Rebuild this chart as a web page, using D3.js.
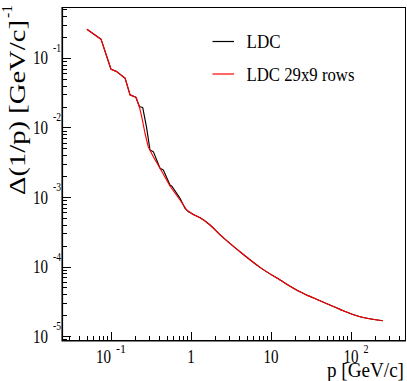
<!DOCTYPE html>
<html><head><meta charset="utf-8">
<script src="https://cdn.jsdelivr.net/npm/d3@7"></script>
<style>html,body{margin:0;padding:0;background:#fff;overflow:hidden}</style>
</head><body>
<script>
// ---- data ----
const ldcP = [0.05, 0.075, 0.1, 0.118, 0.15, 0.173, 0.205, 0.226, 0.249, 0.279, 0.307, 0.338, 0.41, 0.451, 0.546, 0.574, 0.663, 0.729, 0.841, 0.925, 1.0, 1.12, 1.3, 1.73, 2.3, 4.1, 7.29, 13, 23, 41, 73, 130, 250];
const ldcV = [0.259, 0.186, 0.0688, 0.0636, 0.0511, 0.0294, 0.0272, 0.0200, 0.0194, 0.00984, 0.00474, 0.00449, 0.00259, 0.00244, 0.00149, 0.00144, 0.00113, 9.57e-4, 6.87e-4, 6.15e-4, 5.9e-4, 5.45e-4, 5.02e-4, 3.96e-4, 2.88e-4, 1.63e-4, 9.73e-5, 6.4e-5, 4.34e-5, 3.22e-5, 2.42e-5, 1.9e-5, 1.66e-5];
const rowsP = [0.05, 0.075, 0.1, 0.118, 0.15, 0.173, 0.205, 0.226, 0.242, 0.266, 0.292, 0.338, 0.41, 0.546, 0.729, 0.884, 1.0, 1.12, 1.3, 1.73, 2.3, 4.1, 7.29, 13, 23, 41, 73, 130, 250];
const rowsV = [0.259, 0.186, 0.0688, 0.0636, 0.0511, 0.0294, 0.0272, 0.0200, 0.0143, 0.00826, 0.0053, 0.0038, 0.00259, 0.00144, 9.06e-4, 6.5e-4, 5.9e-4, 5.45e-4, 5.02e-4, 3.96e-4, 2.88e-4, 1.63e-4, 9.73e-5, 6.4e-5, 4.34e-5, 3.22e-5, 2.42e-5, 1.9e-5, 1.66e-5];
const seriesNames = ["LDC", "LDC 29x9 rows"];
const seriesColors = ["#000000", "#ff0000"];
const xTickValues = [0.1, 1, 10, 100];
const xTickBase = ["10", "1", "10", "10"];
const xTickExp = ["-1", "", "", "2"];
const yTickValues = [1e-1, 1e-2, 1e-3, 1e-4, 1e-5];
const yTickExp = ["-1", "-2", "-3", "-4", "-5"];
const xTitle = "p [GeV/c]";
const yTitle = "\u0394(1/p) [GeV/c]";
const yTitleExp = "-1";

// ---- layout ----
const W = 407, H = 381;
const L = 62, R = 406, T = 7, B = 341;
const FONT = "'Liberation Serif','Times New Roman',serif";

const svg = d3.select("body").append("svg").attr("width", W).attr("height", H)
  .style("font-family", FONT).style("font-weight", "normal");

const x = d3.scaleLog().domain([0.02441, 487]).range([L, R]);
const y = d3.scaleLog().domain([8.5e-6, 0.54]).range([B, T]);

// frame
svg.append("rect").attr("x", L).attr("y", T + 0.5).attr("width", R - L - 0.5).attr("height", B - T - 0.5)
  .attr("fill", "none").attr("stroke", "#000").attr("stroke-width", 1);

function logTicks(domain) {
  const out = [];
  const lo = Math.floor(Math.log10(domain[0])), hi = Math.ceil(Math.log10(domain[1]));
  for (let e = lo; e <= hi; e++) for (let k = 1; k <= 9; k++) {
    const v = k * Math.pow(10, e);
    if (v >= domain[0] && v <= domain[1]) out.push({v, major: k === 1});
  }
  return out;
}
const gx = svg.append("g");
logTicks(x.domain()).forEach(t => {
  const px = Math.round(x(t.v)) + 0.5;
  gx.append("line").attr("x1", px).attr("x2", px).attr("y1", B).attr("y2", B - (t.major ? 9 : 5))
    .attr("stroke", "#000").attr("stroke-width", 1);
});
const gy = svg.append("g");
logTicks(y.domain()).forEach(t => {
  const py = Math.round(y(t.v)) + 0.5;
  gy.append("line").attr("x1", L).attr("x2", L + (t.major ? 9 : 5)).attr("y1", py).attr("y2", py)
    .attr("stroke", "#000").attr("stroke-width", 1);
});
svg.append("line").attr("x1", L).attr("x2", R).attr("y1", B - 0.5).attr("y2", B - 0.5).attr("stroke", "#000").attr("stroke-width", 1.2);
svg.append("line").attr("x1", L + 0.5).attr("x2", L + 0.5).attr("y1", T).attr("y2", B).attr("stroke", "#000").attr("stroke-width", 1.2);

// x tick labels
xTickValues.forEach((v, i) => {
  const px = x(v);
  const base = xTickBase[i], ex = xTickExp[i];
  const bw = base.length * 7.5;
  if (!ex) {
    svg.append("text").attr("x", px).attr("y", 363).attr("text-anchor", "middle")
      .attr("font-size", 19).attr("textLength", bw).attr("lengthAdjust", "spacingAndGlyphs").text(base);
  } else {
    const ew = ex.length === 2 ? 10 : 5;
    const gap = ex.length === 2 ? 5 : 5;
    const tot = bw + gap + ew;
    const x0 = px - tot / 2 + (ex.length === 2 ? 0 : 5);
    svg.append("text").attr("x", x0).attr("y", 363).attr("font-size", 19)
      .attr("textLength", bw).attr("lengthAdjust", "spacingAndGlyphs").text(base);
    svg.append("text").attr("x", x0 + bw + gap).attr("y", 353).attr("font-size", 12)
      .attr("textLength", ew).attr("lengthAdjust", "spacingAndGlyphs").text(ex);
  }
});

// y tick labels
yTickValues.forEach((v, i) => {
  const py = y(v);
  svg.append("text").attr("x", 33).attr("y", py + 6.5).attr("font-size", 19)
    .attr("textLength", 15).attr("lengthAdjust", "spacingAndGlyphs").text("10");
  svg.append("text").attr("x", 53).attr("y", py - 6).attr("font-size", 13)
    .attr("textLength", 8).attr("lengthAdjust", "spacingAndGlyphs").text(yTickExp[i]);
});

// titles
svg.append("text").attr("x", 327).attr("y", 377).attr("font-size", 20)
  .attr("textLength", 77).attr("lengthAdjust", "spacingAndGlyphs").text(xTitle);
const yt = svg.append("g").attr("transform", "translate(25,195) rotate(-90)");
yt.append("text").attr("x", 0).attr("y", 0).attr("font-size", 23)
  .attr("textLength", 175).attr("lengthAdjust", "spacingAndGlyphs").text(yTitle);
yt.append("text").attr("x", 177).attr("y", -13).attr("font-size", 14)
  .attr("textLength", 13).attr("lengthAdjust", "spacingAndGlyphs").text(yTitleExp);

// series: sharp polyline at low p, smooth curve above p = 1
const head = d3.line().x(d => x(d[0])).y(d => y(d[1]));
const tail = d3.line().x(d => x(d[0])).y(d => y(d[1])).curve(d3.curveMonotoneX);
[[ldcP, ldcV], [rowsP, rowsV]].forEach(([P, V], s) => {
  const pts = P.map((p, i) => [p, V[i]]);
  const h = pts.filter(d => d[0] <= 1.0), t = pts.filter(d => d[0] >= 1.0);
  const g = svg.append("g").attr("fill", "none").attr("stroke", seriesColors[s]).attr("stroke-width", 1.15)
    .attr("stroke-linejoin", "round");
  g.append("path").attr("d", head(h));
  g.append("path").attr("d", tail(t));
});

// legend
const legY = [41.5, 74];
const legLen = [34, 108];
seriesNames.forEach((n, i) => {
  svg.append("line").attr("x1", 212.5).attr("x2", 234).attr("y1", legY[i]).attr("y2", legY[i])
    .attr("stroke", seriesColors[i]).attr("stroke-width", 1.2);
  svg.append("text").attr("x", 246.5).attr("y", legY[i] + 6.5).attr("font-size", 19)
    .attr("textLength", legLen[i]).attr("lengthAdjust", "spacingAndGlyphs").text(n);
});
</script>
</body></html>
